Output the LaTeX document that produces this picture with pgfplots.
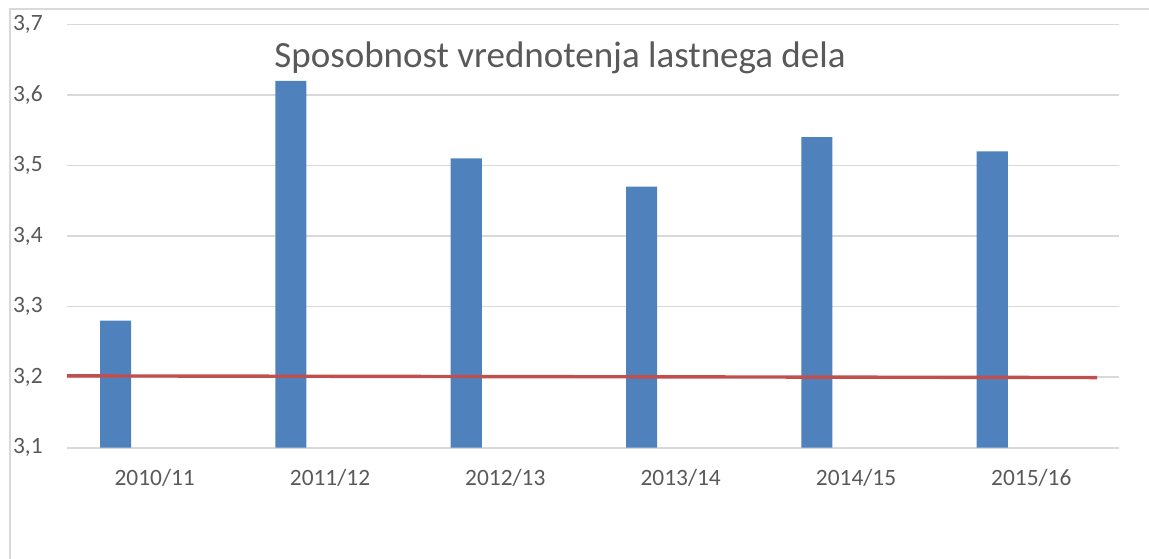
\documentclass[border=0pt]{standalone}
\usepackage{fontspec}
\setmainfont{Carlito}
\usepackage{pgfplots}
\pgfplotsset{compat=1.18}
\definecolor{barblue}{HTML}{4F81BD}
\definecolor{linered}{HTML}{C0504D}
\definecolor{gridgray}{HTML}{D9D9D9}
\definecolor{txtgray}{HTML}{595959}
\begin{document}
\begin{tikzpicture}
\path[use as bounding box] (0,0) rectangle (574.5pt,279pt);
\draw[gridgray, line width=0.8pt] (5pt,-10pt) -- (5pt,274.5pt) -- (600pt,274.5pt);
\begin{axis}[
  at={(33.5pt,55.15pt)}, anchor=south west,
  scale only axis, width=526pt, height=211.7pt,
  xmin=-0.5, xmax=5.5, ymin=3.1, ymax=3.7,
  ytick={3.1,3.2,3.3,3.4,3.5,3.6,3.7},
  xtick={0,1,2,3,4,5},
  xticklabels={2010/11,2011/12,2012/13,2013/14,2014/15,2015/16},
  ymajorgrids, grid style={gridgray, line width=0.8pt},
  axis line style={draw=none}, tick style={draw=none},
  /pgf/number format/assume math mode=true,
  /pgf/number format/.cd, use comma, fixed, fixed zerofill, precision=1,
  /pgfplots/.cd,
  tick label style={font=\fontsize{11.7pt}{14pt}\selectfont, text=txtgray},
  yticklabel style={anchor=east, inner sep=0pt, xshift=-12pt},
  xticklabel style={anchor=north, inner sep=0pt, yshift=-10.5pt},
]
\addplot[ybar, bar width=0.177, bar shift=0pt, fill=barblue, draw=none]
  coordinates {(-0.223,3.28) (0.777,3.62) (1.777,3.51) (2.777,3.47) (3.777,3.54) (4.777,3.52)};
\addplot[linered, line width=1.7pt, mark=none]
  coordinates {(-0.5,3.2018) (5.375,3.1994)};
\end{axis}
\node[anchor=base, text=txtgray, font=\fontsize{18.5pt}{22pt}\selectfont, inner sep=0pt] at (280pt,245pt) {Sposobnost vrednotenja lastnega dela};
\end{tikzpicture}
\end{document}
